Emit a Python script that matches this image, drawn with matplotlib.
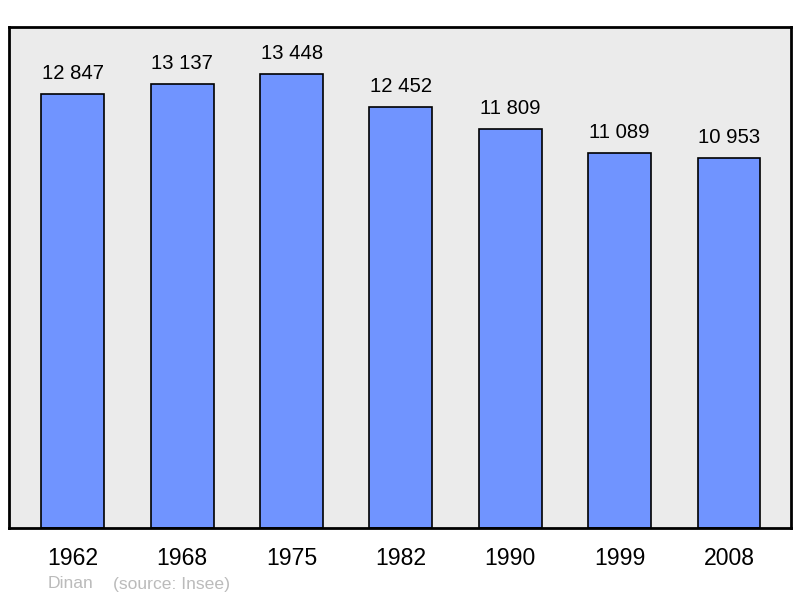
import matplotlib
matplotlib.use("Agg")
import matplotlib.pyplot as plt

years = ["1962", "1968", "1975", "1982", "1990", "1999", "2008"]
population = [12847, 13137, 13448, 12452, 11809, 11089, 10953]
value_labels = ["12 847", "13 137", "13 448", "12 452", "11 809", "11 089", "10 953"]

plt.rcParams["font.family"] = ["Liberation Sans", "DejaVu Sans"]

fig = plt.figure(figsize=(8, 5.98), dpi=100)
ax = fig.add_axes([9 / 800, 70 / 598, 782 / 800, 501 / 598])
ax.set_facecolor("#ebebeb")

x = range(len(years))
bars = ax.bar(x, population, width=0.576, color="#7094ff", edgecolor="black", linewidth=1.2)

for bar, lab in zip(bars, value_labels):
    ax.annotate(lab, (bar.get_x() + bar.get_width() / 2, bar.get_height()),
                xytext=(0, 10.8), textcoords="offset points",
                ha="center", va="baseline", fontsize=14.6)

ax.set_xlim(-0.585, 6.567)
ax.set_ylim(0, 14830)
ax.set_xticks(list(x))
ax.set_xticklabels(years, fontsize=16.6)
ax.tick_params(axis="x", length=0, pad=14)
ax.set_yticks([])
for s in ax.spines.values():
    s.set_linewidth(2)
    s.set_color("black")

fig.text(48 / 800, 1 - 584 / 598, "Dinan", color="#bbbbbb", fontsize=12.6, va="center")
fig.text(113 / 800, 1 - 584 / 598, "(source: Insee)", color="#bbbbbb", fontsize=12.6, va="center")

fig.savefig("out.png", dpi=100)
